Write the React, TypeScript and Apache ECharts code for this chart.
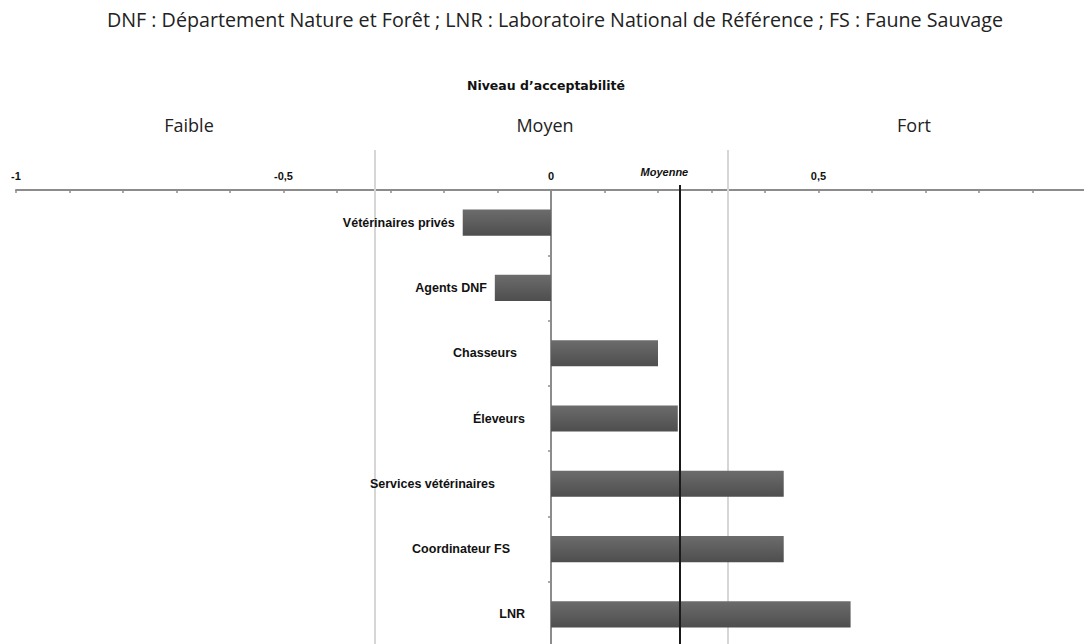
import React, { useEffect, useRef } from "react";
import * as echarts from "echarts";

const categories = [
  "Vétérinaires privés",
  "Agents DNF",
  "Chasseurs",
  "Éleveurs",
  "Services vétérinaires",
  "Coordinateur FS",
  "LNR",
];
const values = [-0.165, -0.105, 0.2, 0.237, 0.435, 0.435, 0.56];
const meanValue = 0.24;
const meanLabel = "Moyenne";
const zoneBounds = [-1 / 3, 1 / 3];
const zoneLabels = ["Faible", "Moyen", "Fort"];
const tickLabelValues = [-1, -0.5, 0, 0.5];
const titleText =
  "DNF : Département Nature et Forêt ; LNR : Laboratoire National de Référence ; FS : Faune Sauvage";
const axisTitle = "Niveau d’acceptabilité";

// distance (px) between each bar's left end and its category label
const labelDistances = [8, 8, 34, 26, 56, 41, 26];
const zoneLabelX = [189, 545, 914];

const LAB_FONT = "'Liberation Sans', Arial, sans-serif";
const CAL_FONT = "'Open Sans', 'Noto Sans', sans-serif";

export default function App() {
  const ref = useRef<HTMLDivElement>(null);
  useEffect(() => {
    if (!ref.current) return;
    const chart = echarts.init(ref.current, null, { renderer: "svg" });
    const axisGrey = "#8c8c8c";
    const gridBase = { left: 16, width: 1070, containLabel: false, outerBoundsMode: "none" };
    const barData = values.map((v, i) => ({
      value: v,
      label: { distance: labelDistances[i] },
    }));
    const option: any = {
      animation: false,
      backgroundColor: "#ffffff",
      grid: [
        { ...gridBase, top: 190, height: 457 },
        { ...gridBase, top: 150, height: 497 },
        { ...gridBase, top: 185, height: 462 },
      ],
      xAxis: [
        {
          gridIndex: 0,
          type: "value",
          position: "top",
          min: -1,
          max: 1,
          interval: 0.1,
          axisLine: { show: true, onZero: false, lineStyle: { color: axisGrey, width: 2 } },
          axisTick: { show: true, inside: true, length: 3, lineStyle: { color: axisGrey, width: 1.5 } },
          splitLine: { show: false },
          axisLabel: {
            margin: 9,
            fontFamily: LAB_FONT,
            fontWeight: "bold",
            fontSize: 11,
            color: "#111",
            formatter: (v: number) => {
              const hit = tickLabelValues.find((t) => Math.abs(t - v) < 1e-6);
              return hit === undefined ? "" : String(hit).replace(".", ",");
            },
          },
        },
        { gridIndex: 1, type: "value", min: -1, max: 1, show: false },
        { gridIndex: 2, type: "value", min: -1, max: 1, show: false },
      ],
      yAxis: [
        {
          gridIndex: 0,
          type: "category",
          data: categories,
          inverse: true,
          axisLine: { show: true, onZero: true, lineStyle: { color: axisGrey, width: 2 } },
          axisTick: { show: true, length: 3, lineStyle: { color: axisGrey, width: 1.5 } },
          splitLine: { show: false },
          axisLabel: { show: false },
        },
        {
          gridIndex: 0,
          type: "category",
          data: categories,
          inverse: true,
          position: "right",
          axisLine: { show: true, onZero: true, lineStyle: { color: axisGrey, width: 2, opacity: 0 } },
          axisTick: { show: true, length: 3, lineStyle: { color: axisGrey, width: 1.5 } },
          axisLabel: { show: false },
          splitLine: { show: false },
        },
        { gridIndex: 1, type: "value", min: 0, max: 1, show: false },
        { gridIndex: 2, type: "value", min: 0, max: 1, show: false },
      ],
      series: [
        {
          type: "scatter",
          xAxisIndex: 1,
          yAxisIndex: 2,
          data: [],
          z: 1,
          silent: true,
          markLine: {
            z: 1,
            silent: true,
            symbol: ["none", "none"],
            label: { show: false },
            lineStyle: { color: "#d6d6d6", width: 2, type: "solid" },
            data: zoneBounds.map((v) => ({ xAxis: v })),
          },
        },
        {
          type: "bar",
          xAxisIndex: 0,
          yAxisIndex: 0,
          data: barData,
          barWidth: "40%",
          z: 3,
          silent: true,
          label: {
            show: true,
            position: "left",
            formatter: "{b}",
            fontFamily: LAB_FONT,
            fontWeight: "bold",
            fontSize: 12.5,
            color: "#111",
          },
          itemStyle: {
            color: new echarts.graphic.LinearGradient(0, 0, 0, 1, [
              { offset: 0, color: "#6c6c6c" },
              { offset: 1, color: "#4e4e4e" },
            ]),
          },
        },
        {
          type: "scatter",
          xAxisIndex: 2,
          yAxisIndex: 3,
          data: [],
          z: 5,
          silent: true,
          markLine: {
            z: 6,
            silent: true,
            symbol: ["none", "none"],
            lineStyle: { color: "#1a1a1a", width: 2, type: "solid" },
            label: {
              show: true,
              position: "end",
              formatter: meanLabel,
              fontFamily: LAB_FONT,
              fontStyle: "italic",
              fontWeight: "bold",
              fontSize: 11,
              color: "#111",
              distance: 8,
              padding: [0, 30, 0, 0],
            },
            data: [{ xAxis: meanValue }],
          },
        },
      ],
      graphic: [
        {
          type: "text",
          x: 555,
          y: 19,
          style: {
            text: titleText,
            fontFamily: CAL_FONT,
            fontSize: 19.7,
            fill: "#222",
            textAlign: "center",
            textVerticalAlign: "middle",
          },
        },
        {
          type: "text",
          x: 546,
          y: 85,
          style: {
            text: axisTitle,
            fontFamily: "'DejaVu Sans', sans-serif",
            fontWeight: "bold",
            fontSize: 12.5,
            fill: "#111",
            textAlign: "center",
            textVerticalAlign: "middle",
          },
        },
        ...zoneLabels.map((t, i) => ({
          type: "text",
          x: zoneLabelX[i],
          y: 125,
          style: {
            text: t,
            fontFamily: CAL_FONT,
            fontSize: 18,
            fill: "#222",
            textAlign: "center",
            textVerticalAlign: "middle",
          },
        })),
      ],
    };
    chart.setOption(option);
    return () => chart.dispose();
  }, []);
  return (
    <div
      ref={ref}
      style={{ position: "absolute", left: 0, top: 0, width: 1084, height: 644 }}
    />
  );
}
